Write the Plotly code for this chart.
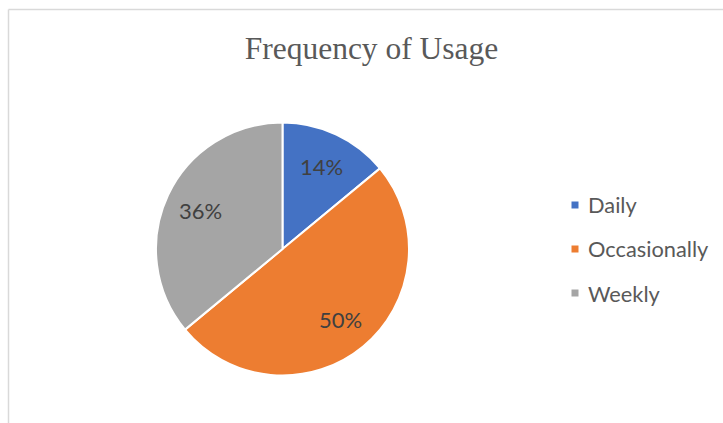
import math
import plotly.graph_objects as go

# ---- data ----
categories = ["Daily", "Occasionally", "Weekly"]
values = [14, 50, 36]
colors = ["#4472C4", "#ED7D31", "#A5A5A5"]
title_text = "Frequency of Usage"

W, H = 723, 423

# pie geometry (pixels)
cx, cy, R = 282.5, 249.0, 126.5

def px(x):
    return x / W

def py(y):
    return 1 - y / H

fig = go.Figure()
fig.add_trace(go.Pie(
    labels=categories,
    values=values,
    marker=dict(colors=colors, line=dict(color="white", width=2)),
    sort=False,
    direction="clockwise",
    rotation=0,
    textinfo="none",
    hoverinfo="label+percent",
    showlegend=False,
    domain=dict(x=[px(cx - R), px(cx + R)], y=[py(cy + R), py(cy - R)]),
))

annotations = []
total = sum(values)
cum = 0
for lab, v in zip(categories, values):
    mid = (cum + v / 2) / total * 2 * math.pi
    cum += v
    r = 0.72 * R
    x = cx + r * math.sin(mid)
    y = cy - r * math.cos(mid)
    annotations.append(dict(
        x=px(x), y=py(y), xref="paper", yref="paper",
        text=f"{round(v / total * 100)}%", showarrow=False,
        font=dict(family="Lato", size=22, color="#404040"),
        xanchor="center", yanchor="middle",
    ))

# legend (manual)
shapes = []
leg_x, leg_y0, leg_dy = 575, 205, 44
for i, (lab, col) in enumerate(zip(categories, colors)):
    y = leg_y0 + i * leg_dy
    shapes.append(dict(type="rect", xref="paper", yref="paper",
                       x0=px(leg_x - 3.5), x1=px(leg_x + 3.5),
                       y0=py(y + 3.5), y1=py(y - 3.5),
                       fillcolor=col, line=dict(width=0)))
    annotations.append(dict(
        x=px(leg_x + 11), y=py(y), xref="paper", yref="paper",
        text=lab, showarrow=False, xanchor="left", yanchor="middle",
        font=dict(family="Lato", size=21.8, color="#595959"),
    ))

# chart border (top and left visible)
shapes.append(dict(type="line", xref="paper", yref="paper",
                   x0=px(8.5), x1=1.0, y0=py(9.5), y1=py(9.5),
                   line=dict(color="#D9D9D9", width=1.5)))
shapes.append(dict(type="line", xref="paper", yref="paper",
                   x0=px(8.5), x1=px(8.5), y0=py(9.5), y1=0.0,
                   line=dict(color="#D9D9D9", width=1.5)))

fig.update_layout(
    width=W, height=H,
    margin=dict(l=0, r=0, t=0, b=0),
    paper_bgcolor="white",
    plot_bgcolor="white",
    title=dict(text=title_text, x=px(371.5), y=py(48), xanchor="center",
               yanchor="middle", xref="paper", yref="paper",
               font=dict(family="Liberation Serif", size=31.5, color="#595959")),
    annotations=annotations,
    shapes=shapes,
    showlegend=False,
)

fig.write_html("out.html")
